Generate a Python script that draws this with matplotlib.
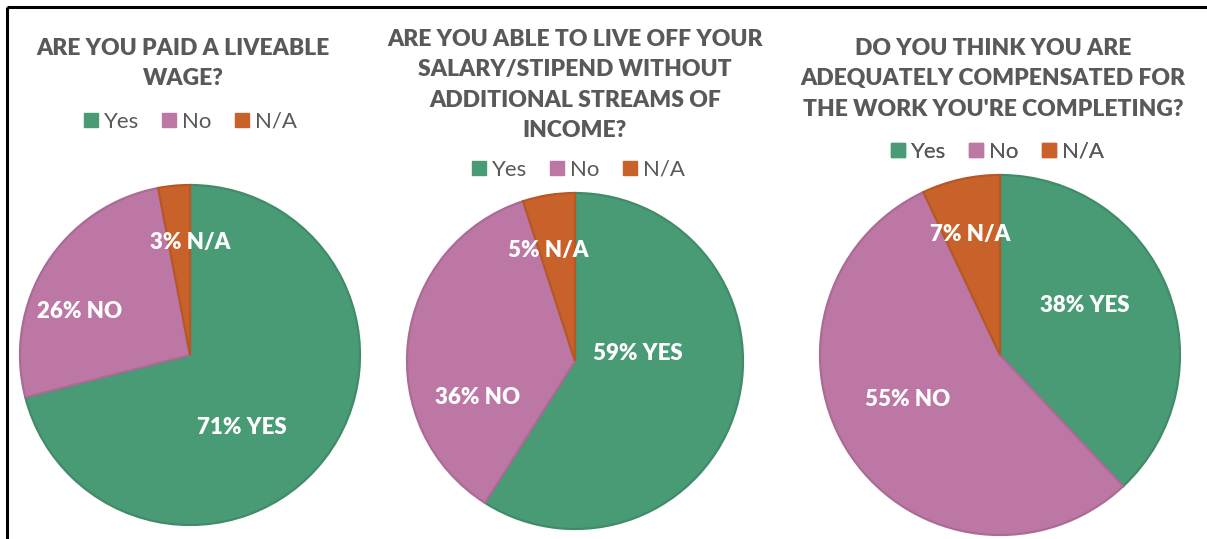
import matplotlib
matplotlib.use("Agg")
import matplotlib.pyplot as plt
from matplotlib.lines import Line2D
import matplotlib.colors as mcolors

categories = ["Yes", "No", "N/A"]
titles = [
    "ARE YOU PAID A LIVEABLE\nWAGE?",
    "ARE YOU ABLE TO LIVE OFF YOUR\nSALARY/STIPEND WITHOUT\nADDITIONAL STREAMS OF\nINCOME?",
    "DO YOU THINK YOU ARE\nADEQUATELY COMPENSATED FOR\nTHE WORK YOU'RE COMPLETING?",
]
liveable_wage = [71, 26, 3]
live_off_salary = [59, 36, 5]
adequately_compensated = [38, 55, 7]
label_words = ["YES", "NO", "N/A"]

colors = ["#489b75", "#bd77a4", "#c9622a"]
title_color = "#595959"
FONT = "Lato"

W, H = 1207, 539
fig = plt.figure(figsize=(W / 100, H / 100), dpi=100)
ax = fig.add_axes([0, 0, 1, 1])
ax.set_xlim(0, W)
ax.set_ylim(H, 0)
ax.set_aspect("equal")
ax.axis("off")

# layout for each chart: pie centre, radius, title centre/top, legend centre,
# and label offsets (dx, dy) from the pie centre
layouts = [
    dict(center=(190, 355), r=170, title=(183, 38), legend=(190, 122),
         offsets=[(52, 73), (-110, -44), (0, -112)]),
    dict(center=(575, 361), r=168, title=(575, 29), legend=(578, 170),
         offsets=[(63, -7), (-97, 37), (-27, -111)]),
    dict(center=(1000, 355), r=180, title=(993, 38), legend=(997, 152),
         offsets=[(85, -50), (-92, 45), (-30, -120)]),
]
datasets = [liveable_wage, live_off_salary, adequately_compensated]

for data, title, lay in zip(datasets, titles, layouts):
    cx, cy = lay["center"]
    # the axes y is inverted, so counterclock=True draws clockwise on screen
    wedges, _ = ax.pie(data, colors=colors, startangle=-90, counterclock=True,
                       center=(cx, cy), radius=lay["r"], frame=True,
                       wedgeprops=dict(linewidth=1.6))
    for w, c in zip(wedges, colors):
        rgb = mcolors.to_rgb(c)
        w.set_edgecolor(tuple(v * 0.9 for v in rgb))
    for val, word, (dx, dy) in zip(data, label_words, lay["offsets"]):
        ax.text(cx + dx, cy + dy, f"{val}% {word}", color="white",
                fontsize=16, fontweight="heavy", family=FONT,
                ha="center", va="center")
    tx, ty = lay["title"]
    ax.text(tx, ty, title, color=title_color, fontsize=16.5, fontweight="heavy",
            family=FONT, ha="center", va="top", linespacing=1.55)
    handles = [Line2D([], [], marker="s", linestyle="none", markersize=9.5,
                      markerfacecolor=c, markeredgecolor=c) for c in colors]
    lx, ly = lay["legend"]
    leg = ax.legend(handles, categories, loc="center", bbox_to_anchor=(lx, ly),
                    bbox_transform=ax.transData, ncol=3, frameon=False,
                    handlelength=0.7, handletextpad=0.25, columnspacing=1.0,
                    prop=dict(family=FONT, size=16), labelcolor=title_color)
    ax.add_artist(leg)

ax.set_xlim(0, W)
ax.set_ylim(H, 0)

# frame lines along the top and left edges
ax.plot([7, W], [7, 7], color="black", linewidth=2.2, solid_capstyle="butt")
ax.plot([7, 7], [7, H], color="black", linewidth=2.2, solid_capstyle="butt")

fig.savefig("out.png", dpi=100, facecolor="white")
